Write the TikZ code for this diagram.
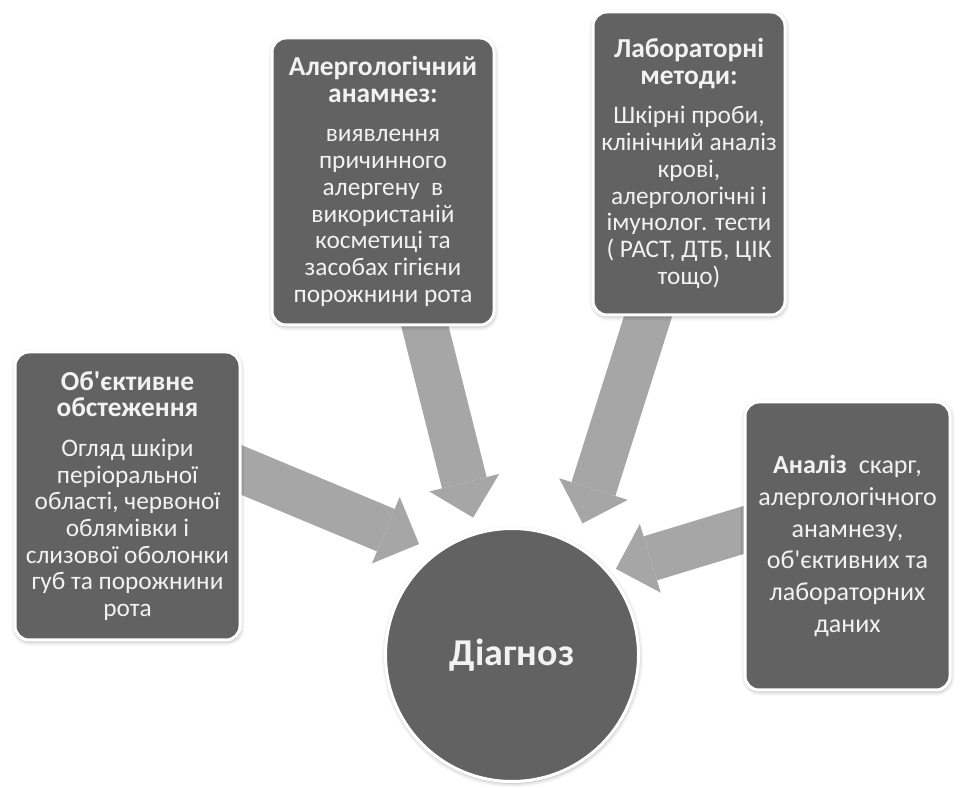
\documentclass[tikz,border=0pt]{standalone}
\usepackage{fontspec}
\setmainfont{Carlito}[Ligatures=TeXOff]
\usetikzlibrary{arrows.meta,shadows.blur,backgrounds}
\definecolor{boxgray}{RGB}{98,98,98}
\definecolor{arrowgray}{RGB}{166,166,166}
\definecolor{txtwhite}{RGB}{242,242,242}
\newcommand{\boxhead}[1]{{\fontsize{19.5}{18.5}\selectfont\bfseries #1}}

\begin{document}
\begin{tikzpicture}[
    infobox/.style={rectangle, rounded corners=0.35cm, fill=boxgray, draw=white, line width=0.075cm,
        text=txtwhite, align=center, inner sep=2pt,
        blur shadow={shadow xshift=0.4pt, shadow yshift=-1.2pt, shadow blur radius=3pt, shadow opacity=35},
        font=\fontsize{18}{19}\selectfont},
    diagcircle/.style={circle, fill=boxgray, draw=white, line width=0.075cm, minimum size=6.325cm,
        text=txtwhite, font=\fontsize{27}{32}\selectfont\bfseries,
        blur shadow={shadow xshift=0.4pt, shadow yshift=-1.2pt, shadow blur radius=3pt, shadow opacity=35}},
    conv/.style={draw=arrowgray, line width=1.15cm, shorten <=-0.3cm,
        -{Triangle[width=1.8cm,length=0.9cm,line width=0pt]}}
]
    \useasboundingbox (0,0) rectangle (24,19.7);

    \node [infobox, minimum width=5.55cm, minimum height=7.175cm] (alerg) at (9.575,15.1625)
        {\boxhead{Алергологічний}\\\boxhead{анамнез:}\\[9pt]виявлення\\причинного\\алергену\ \ в\\використаній\\косметиці та\\засобах гігієни\\порожнини рота};
    \node [infobox, minimum width=4.8cm, minimum height=7.575cm] (lab) at (17.225,15.6125)
        {\boxhead{Лабораторні}\\\boxhead{методи:}\\[9pt]Шкірні проби,\\клінічний аналіз\\крові,\\алергологічні і\\імунолог. тести\\( РАСТ, ДТБ, ЦІК\\тощо)};
    \node [infobox, minimum width=5.625cm, minimum height=7.2cm] (obj) at (3.1875,7.3)
        {\boxhead{Об'єктивне}\\\boxhead{обстеження}\\[9pt]Огляд шкіри\\періоральної\\області, червоної\\облямівки і\\слизової оболонки\\губ та порожнини\\рота};
    \node [infobox, minimum width=5.125cm, minimum height=7.2cm, font=\fontsize{18.5}{22.5}\selectfont] (anal) at (21.1875,6.05)
        {\textbf{Аналіз}\ \ скарг,\\алергологічного\\анамнезу,\\об'єктивних та\\лабораторних\\даних};
    \node [diagcircle] (diag) at (12.8,3.325) {Діагноз};

    \begin{scope}[on background layer]
        \draw [conv, shorten >=0.37cm] ([xshift=1.05cm]alerg.south) -- (diag.106.5);
        \draw [conv, shorten >=0.545cm] ([xshift=-1.025cm]lab.south) -- (diag.60.4);
        \draw [conv, shorten >=0.48cm] ([yshift=0.65cm]obj.east) -- (diag.126.4);
        \draw [conv, shorten >=0.19cm] ([yshift=0.4cm]anal.west) -- (diag.41.5);
    \end{scope}

\end{tikzpicture}
\end{document}
